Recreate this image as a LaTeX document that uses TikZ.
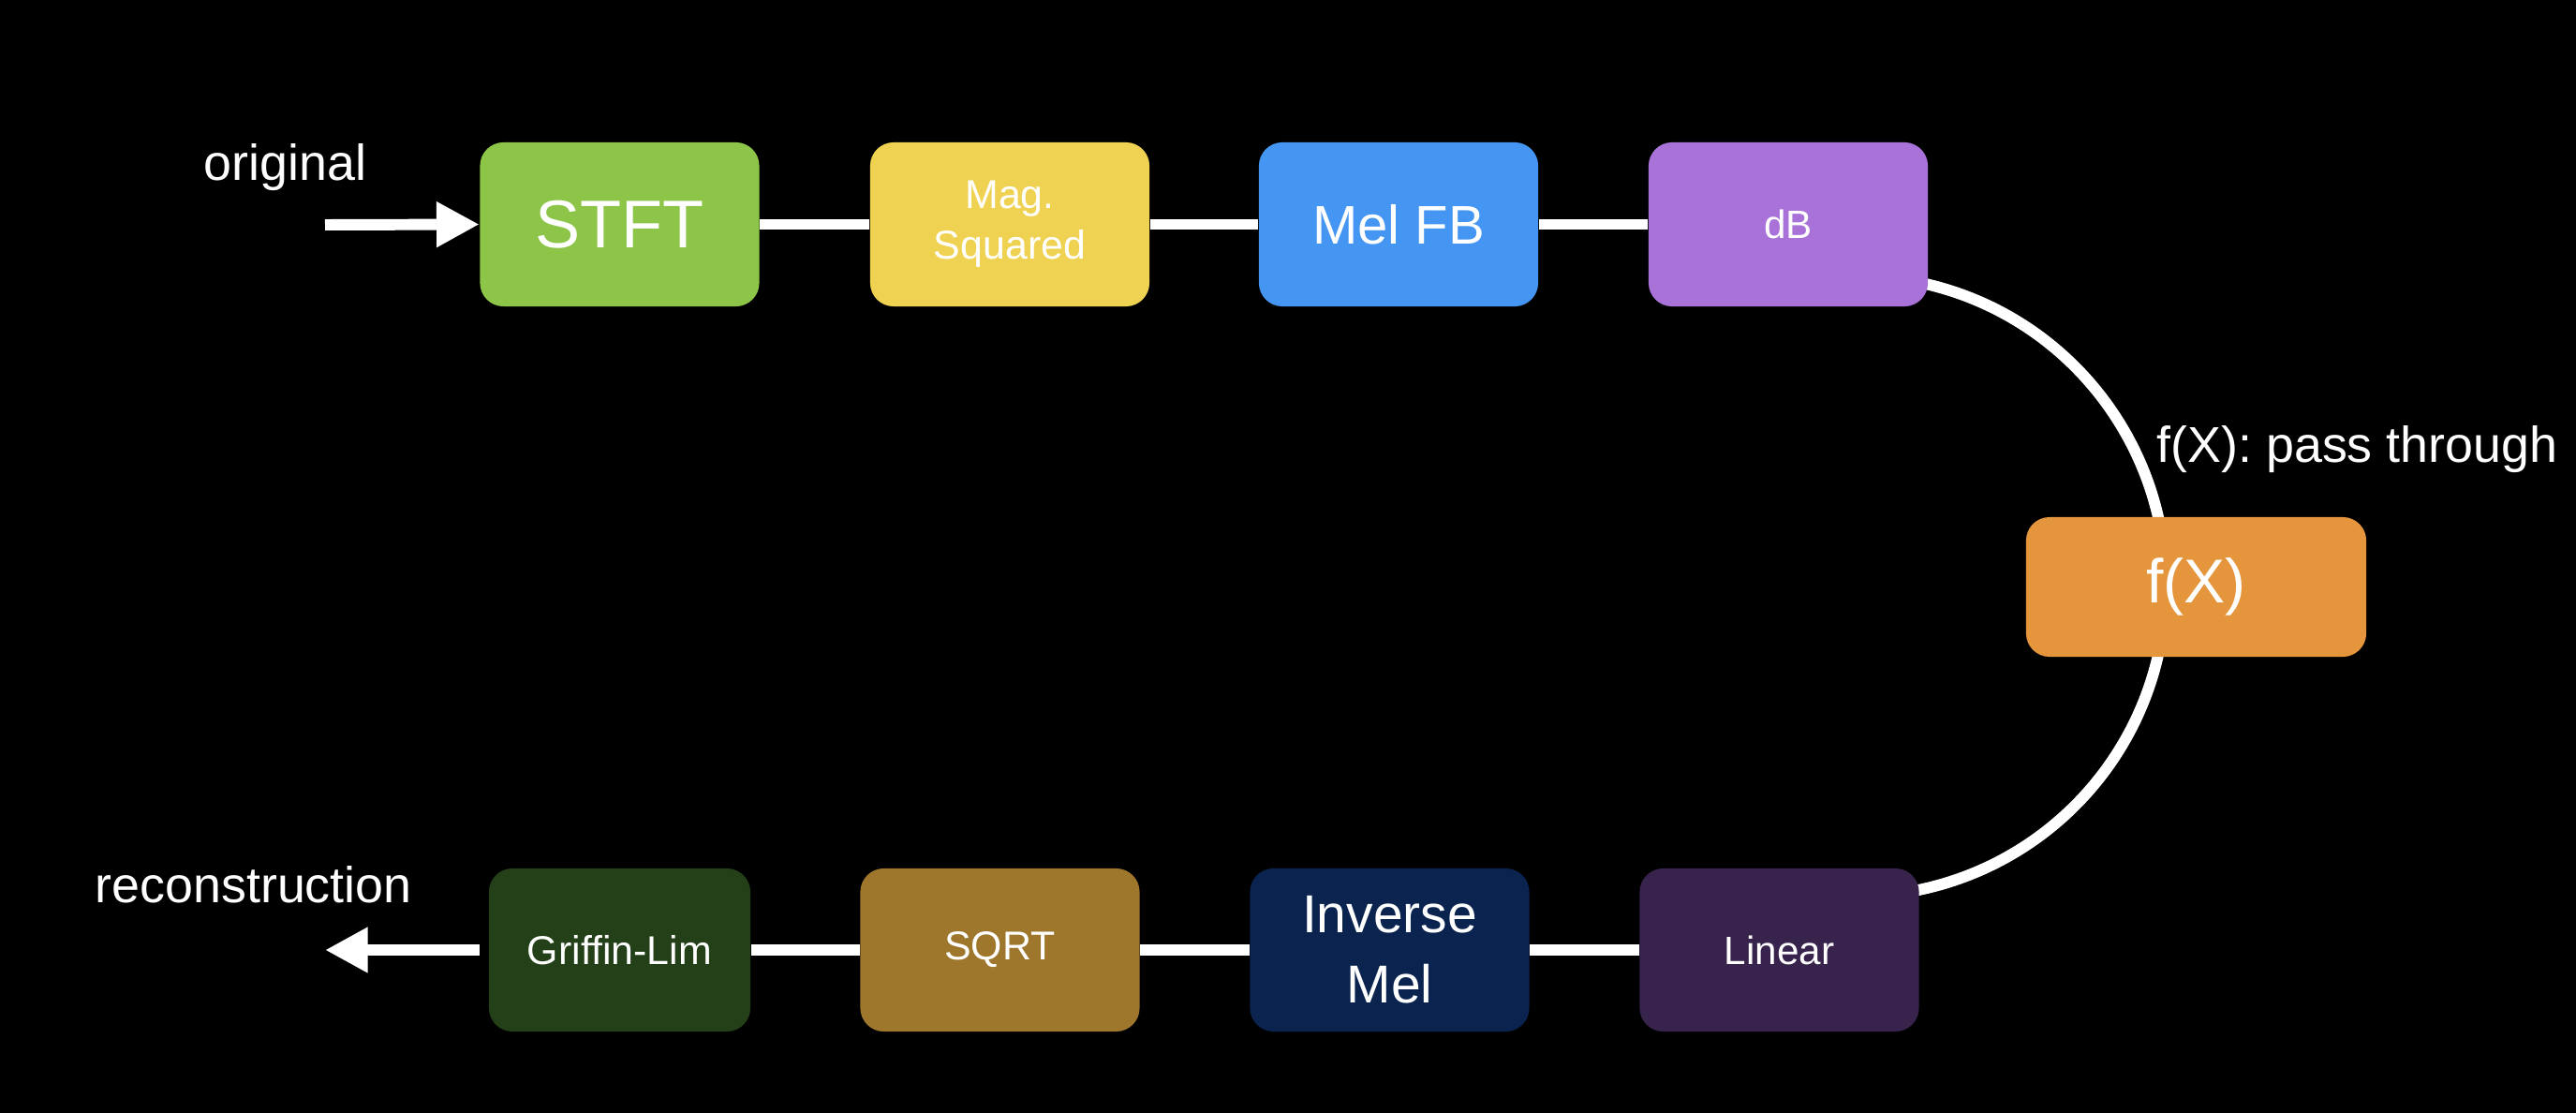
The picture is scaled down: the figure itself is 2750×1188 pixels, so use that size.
\documentclass[tikz,border=0pt]{standalone}
\usepackage{fontspec}
\setmainfont{Liberation Sans}
\usetikzlibrary{arrows.meta}
\pgfdeclarelayer{background}
\pgfsetlayers{background,main}

\definecolor{cStft}{RGB}{141,197,73}
\definecolor{cMag}{RGB}{240,210,82}
\definecolor{cMel}{RGB}{69,150,242}
\definecolor{cDb}{RGB}{168,114,217}
\definecolor{cFx}{RGB}{229,149,60}
\definecolor{cGl}{RGB}{35,64,24}
\definecolor{cSqrt}{RGB}{158,119,45}
\definecolor{cInv}{RGB}{11,36,79}
\definecolor{cLin}{RGB}{55,35,75}

\newcommand{\fsz}[2]{\fontsize{#1}{#2}\selectfont}

\begin{document}
\begin{tikzpicture}[x=0.01cm,y=-0.01cm,
  block/.style={rounded corners=0.25cm, inner sep=0pt, align=center,
    text=white, minimum width=2.98cm, minimum height=1.75cm},
  wire/.style={white, line width=3.4pt},
  arrowwire/.style={wire, -{Triangle[length=13pt,width=13pt]}},
  caption/.style={text=white, inner sep=0pt, font=\fsz{15.3}{19}}]

  % upper chain
  \node[block, fill=cStft, font=\fsz{20.5}{24}] (stft) at (661.5,239.5) {STFT};
  \node[block, fill=cMag, font=\fsz{12.2}{15.4}] (mag) at (1078,239.5) {Mag.\\Squared};
  \node[block, fill=cMel, font=\fsz{16.5}{20}] (mel) at (1493,239.5) {Mel FB};
  \node[block, fill=cDb, font=\fsz{12}{15}] (db) at (1909,239.5) {dB};

  % middle stage
  \node[block, fill=cFx, font=\fsz{18.8}{22}, minimum width=3.63cm,
        minimum height=1.49cm] (fx) at (2344.5,626.5) {f(X)};

  % lower chain
  \node[block, fill=cGl, font=\fsz{12.2}{15}, minimum width=2.79cm,
        minimum height=1.74cm] (gl) at (661.5,1014) {Griffin-Lim};
  \node[block, fill=cSqrt, font=\fsz{12.2}{15}, minimum height=1.74cm] (sqrt) at (1067.5,1014) {SQRT};
  \node[block, fill=cInv, font=\fsz{16.2}{21.3}, minimum height=1.74cm] (inv) at (1483.5,1014) {Inverse\\Mel};
  \node[block, fill=cLin, font=\fsz{12}{15}, minimum height=1.74cm] (lin) at (1899.5,1014) {Linear};

  % text labels
  \node[caption, anchor=base west] (orig) at (217,193) {original};
  \node[caption, anchor=base west] (recon) at (101,963) {reconstruction};
  \node[caption, anchor=base west] (pass) at (2302,493) {f(X): pass through};

  % end points of the open connectors
  \coordinate (inStart) at (347,240);
  \coordinate (outEnd) at (347,1014);
  \coordinate (loopStart) at (2038.5,299.5);

  % connectors
  \draw[arrowwire] (inStart) -- (stft.west);
  \draw[wire] (stft) -- (mag);
  \draw[wire] (mag) -- (mel);
  \draw[wire] (mel) -- (db);
  \draw[wire] (lin) -- (inv);
  \draw[wire] (inv) -- (sqrt);
  \draw[wire] (sqrt) -- (gl);
  \draw[arrowwire] ([xshift=-0.09cm]gl.west) -- (outEnd);

  \begin{pgfonlayer}{background}
    % canvas
    \fill[black] (0,0) rectangle (2750,1188);
    % loop from dB through f(X) to Linear, hidden behind the boxes
    \draw[wire] (loopStart) arc[start angle=80, end angle=-80, radius=3.31cm];
  \end{pgfonlayer}
\end{tikzpicture}
\end{document}
